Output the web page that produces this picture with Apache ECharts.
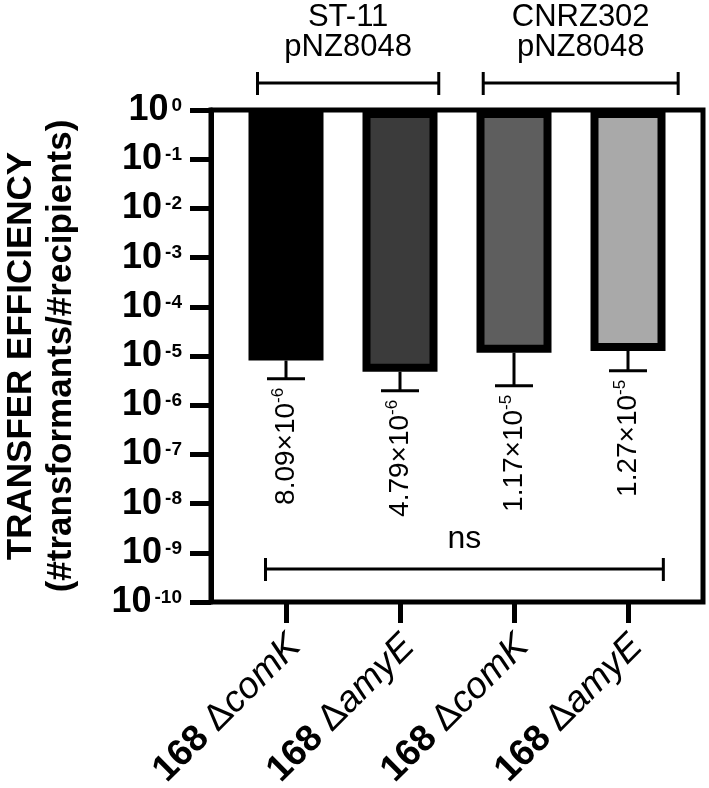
<!DOCTYPE html>
<html>
<head>
<meta charset="utf-8">
<title>Transfer efficiency</title>
<script src="https://cdn.jsdelivr.net/npm/echarts@6/dist/echarts.min.js"></script>
</head>
<body style="margin:0;background:#fff">
<div id="main" style="width:709px;height:788px;"></div>
<script type="text/javascript">
var FONT = '"Liberation Sans", Arial, Helvetica, sans-serif';

// recipients (x axis), all strain 168
var strains = ['comK', 'amyE', 'comK', 'amyE'];
var categories = ['ST-11 comK', 'ST-11 amyE', 'CNRZ302 comK', 'CNRZ302 amyE'];
// transfer efficiency (mean) and lower end of the error bar
var efficiency = [8.09e-6, 4.79e-6, 1.17e-5, 1.27e-5];
var errorLow = [3.44e-6, 1.96e-6, 2.48e-6, 5.0e-6];
var fills = ['#000000', '#3b3b3b', '#5e5e5e', '#a9a9a9'];

// donor brackets, in category units
var groups = [
    {name: 'ST-11\npNZ8048', from: -0.25, to: 1.34},
    {name: 'CNRZ302\npNZ8048', from: 1.73, to: 3.44}
];
var nsSpan = [-0.18, 3.31];

function supLabel(v) {
    var e = Math.floor(Math.log10(v) + 1e-9);
    var m = (v / Math.pow(10, e)).toFixed(2);
    return '{m|' + m + '×10}{e|' + e + '}';
}

var myChart = echarts.init(document.getElementById('main'));

var option = {
    animation: false,
    textStyle: {fontFamily: FONT, color: '#000'},
    grid: [
        {left: 229, right: 24, top: 110, bottom: 186, outerBoundsMode: 'none', containLabel: false},
        {left: 211, right: 6, top: 110, bottom: 186, outerBoundsMode: 'none', show: true,
         borderColor: '#000', borderWidth: 5, backgroundColor: 'transparent'}
    ],
    xAxis: [{
        type: 'category',
        gridIndex: 0,
        data: categories,
        axisLine: {show: false},
        axisTick: {show: true, alignWithLabel: true, length: 21, lineStyle: {width: 5, color: '#000'}},
        axisLabel: {
            rotate: 45,
            margin: 30,
            padding: [25, 0, 0, 0],
            interval: 0,
            formatter: function (value, idx) {
                return '{n|168 }{d|Δ}{i|' + strains[idx] + '}';
            },
            rich: {
                n: {fontSize: 37, fontWeight: 'bold', fontFamily: FONT, color: '#000'},
                d: {fontSize: 37, fontFamily: FONT, color: '#000'},
                i: {fontSize: 37, fontStyle: 'italic', fontFamily: FONT, color: '#000'}
            }
        }
    }, {
        type: 'value', gridIndex: 1, show: false
    }],
    yAxis: [{
        type: 'log',
        gridIndex: 0,
        logBase: 10,
        min: 1e-10,
        max: 1,
        interval: 1,
        offset: 18,
        axisLine: {show: true, lineStyle: {width: 5, color: '#000'}},
        axisTick: {show: true, length: 21, lineStyle: {width: 5, color: '#000'}},
        minorTick: {show: false},
        splitLine: {show: false},
        axisLabel: {
            margin: 29,
            formatter: function (v) {
                return '{b|10}{s|' + Math.round(Math.log10(v)) + '}';
            },
            rich: {
                b: {fontSize: 36, fontWeight: 'bold', lineHeight: 42, verticalAlign: 'middle', fontFamily: FONT, color: '#000'},
                s: {fontSize: 19, fontWeight: 'bold', verticalAlign: 'middle', padding: [0, 0, 9, 3], fontFamily: FONT, color: '#000'}
            }
        },
        name: 'TRANSFER EFFICIENCY\n(#transformants/#recipients)',
        nameLocation: 'middle',
        nameRotate: 90,
        nameGap: 130,
        nameTextStyle: {fontSize: 35, fontWeight: 'bold', lineHeight: 40, fontFamily: FONT, color: '#000'}
    }, {
        type: 'value', gridIndex: 1, show: false
    }],
    series: [{
        // bars hang from 10^0 down to the value
        type: 'custom',
        name: 'efficiency',
        xAxisIndex: 0,
        yAxisIndex: 0,
        data: efficiency.map(function (v, i) { return [i, v]; }),
        renderItem: function (params, api) {
            var i = api.value(0);
            var top = api.coord([i, 1]);
            var bot = api.coord([i, api.value(1)]);
            var w = 75, b = 8;
            var x = top[0] - w / 2;
            return {
                type: 'group',
                children: [
                    {type: 'rect', shape: {x: x, y: top[1], width: w, height: bot[1] - top[1]}, style: {fill: '#000'}},
                    {type: 'rect', shape: {x: x + b, y: top[1] + b, width: w - 2 * b, height: bot[1] - top[1] - 2 * b}, style: {fill: fills[i]}}
                ]
            };
        }
    }, {
        // lower error bars + value labels
        type: 'custom',
        name: 'error',
        xAxisIndex: 0,
        yAxisIndex: 0,
        clip: false,
        data: efficiency.map(function (v, i) { return [i, v, errorLow[i]]; }),
        renderItem: function (params, api) {
            var i = api.value(0);
            var p1 = api.coord([i, api.value(1)]);
            var p2 = api.coord([i, api.value(2)]);
            var cap = 19;
            var ls = {stroke: '#000', lineWidth: 3};
            return {
                type: 'group',
                children: [
                    {type: 'line', shape: {x1: p1[0], y1: p1[1], x2: p2[0], y2: p2[1]}, style: ls},
                    {type: 'line', shape: {x1: p2[0] - cap, y1: p2[1], x2: p2[0] + cap, y2: p2[1]}, style: ls},
                    {type: 'text', x: p2[0], y: p2[1] + 9, rotation: Math.PI / 2,
                     style: {
                        text: supLabel(efficiency[i]),
                        align: 'right',
                        verticalAlign: 'middle',
                        fill: '#000',
                        rich: {
                            m: {fontSize: 28, lineHeight: 32, verticalAlign: 'middle', fontFamily: FONT, fill: '#000'},
                            e: {fontSize: 17, lineHeight: 17, verticalAlign: 'top', fontFamily: FONT, fill: '#000'}
                        }
                     }}
                ]
            };
        }
    }, {
        // donor brackets and the ns comparison
        type: 'custom',
        name: 'annotations',
        xAxisIndex: 0,
        yAxisIndex: 0,
        clip: false,
        silent: true,
        data: [[0, 1]],
        renderItem: function (params, api) {
            var cs = params.coordSys;
            var x0 = api.coord([0, 1])[0];
            var band = api.size([1, 0])[0];
            var ls = {stroke: '#000', lineWidth: 3};
            var kids = [];
            function bracket(a, b, y, label, ty, fs, lh) {
                var xa = x0 + band * a, xb = x0 + band * b;
                kids.push({type: 'line', shape: {x1: xa, y1: y, x2: xb, y2: y}, style: ls});
                kids.push({type: 'line', shape: {x1: xa, y1: y - 11, x2: xa, y2: y + 12}, style: ls});
                kids.push({type: 'line', shape: {x1: xb, y1: y - 11, x2: xb, y2: y + 12}, style: ls});
                kids.push({type: 'text', x: (xa + xb) / 2, y: y + ty,
                    style: {text: label, align: 'center', verticalAlign: 'middle', fill: '#000',
                            font: 'normal ' + fs + 'px ' + FONT, lineHeight: lh}});
            }
            groups.forEach(function (g) {
                bracket(g.from, g.to, cs.y - 27, g.name, -51, 31, 30);
            });
            bracket(nsSpan[0], nsSpan[1], cs.y + cs.height - 33, 'ns', -30, 32, 34);
            return {type: 'group', children: kids};
        }
    }]
};

myChart.setOption(option);
</script>
</body>
</html>
